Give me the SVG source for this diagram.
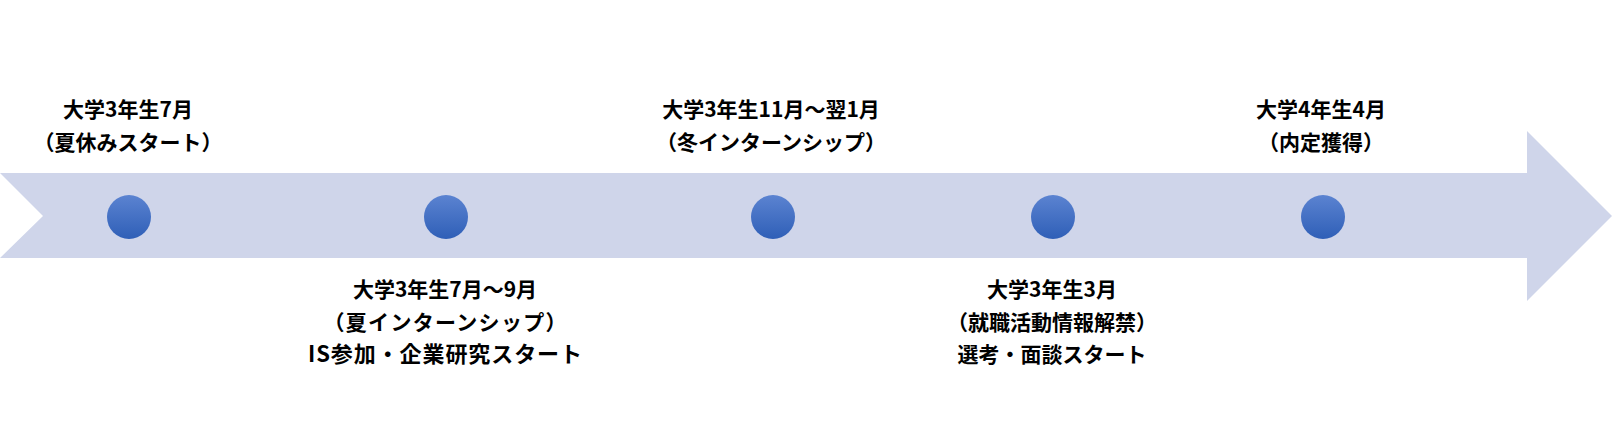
<svg xmlns="http://www.w3.org/2000/svg" width="1613" height="433" viewBox="0 0 1613 433">
<defs>
<linearGradient id="dot" x1="0" y1="0" x2="0" y2="1">
<stop offset="0" stop-color="#5b83d1"/>
<stop offset="1" stop-color="#2f5fb7"/>
</linearGradient>
<style>
.lbl{font-family:"Noto Sans CJK JP","Noto Sans CJK SC",sans-serif;font-weight:bold;font-size:21px;fill:#000;text-anchor:middle}
.dot{fill:url(#dot)}
</style>
</defs>
<rect width="1613" height="433" fill="#fff"/>
<g id="connectors">
<polygon points="0,173 1527,173 1527,131 1612,216 1527,301 1527,258 0,258 43,216" fill="#cfd5ea"/>
</g>
<g id="n1">
<circle class="dot" cx="129" cy="217" r="22"/>
<text class="lbl" x="128" y="117">大学3年生7月</text>
<text class="lbl" x="128" y="150">（夏休みスタート）</text>
</g>
<g id="n2">
<circle class="dot" cx="446" cy="217" r="22"/>
<text class="lbl" x="445" y="297">大学3年生7月～9月</text>
<text class="lbl" x="445" y="330" textLength="243" lengthAdjust="spacing">（夏インターンシップ）</text>
<text class="lbl" x="445" y="362" style="font-size:22px" textLength="274" lengthAdjust="spacing">IS参加・企業研究スタート</text>
</g>
<g id="n3">
<circle class="dot" cx="773" cy="217" r="22"/>
<text class="lbl" x="771" y="117">大学3年生11月～翌1月</text>
<text class="lbl" x="771" y="150">（冬インターンシップ）</text>
</g>
<g id="n4">
<circle class="dot" cx="1053" cy="217" r="22"/>
<text class="lbl" x="1052" y="297">大学3年生3月</text>
<text class="lbl" x="1052" y="330">（就職活動情報解禁）</text>
<text class="lbl" x="1052" y="362">選考・面談スタート</text>
</g>
<g id="n5">
<circle class="dot" cx="1323" cy="217" r="22"/>
<text class="lbl" x="1321" y="117">大学4年生4月</text>
<text class="lbl" x="1321" y="150">（内定獲得）</text>
</g>
</svg>
